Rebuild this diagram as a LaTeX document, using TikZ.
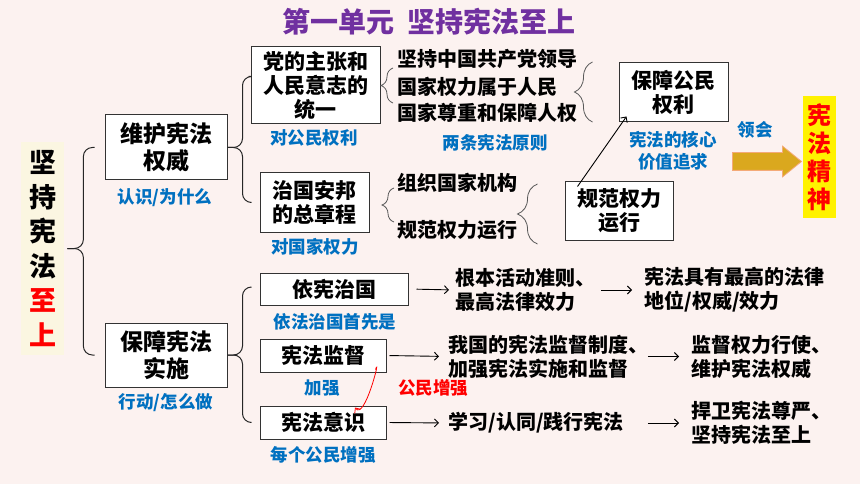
\documentclass[tikz,border=0pt]{standalone}
\usepackage{fontspec}
\setmainfont{Noto Sans CJK SC}
\usetikzlibrary{arrows.meta,shapes.arrows,decorations.pathreplacing}

\definecolor{bgpink}{RGB}{252,242,240}
\definecolor{titlepurple}{RGB}{112,48,160}
\definecolor{labelblue}{RGB}{0,112,192}
\definecolor{cream}{RGB}{251,246,225}
\definecolor{gold}{RGB}{218,168,30}
\definecolor{goldedge}{RGB}{244,170,120}

\tikzset{every picture/.style={line width=0.75pt}}
\tikzset{
  box/.style={draw=black!80, line width=1pt, fill=white, align=center, inner sep=0pt,
    font=\bfseries\fontsize{21}{24}\selectfont},
  note/.style={text=labelblue, align=center, inner sep=0pt,
    font=\bfseries\fontsize{17.5}{22}\selectfont},
  item/.style={anchor=west, align=left, inner sep=0pt,
    font=\bfseries\fontsize{20}{24}\selectfont},
  conn/.style={draw=black!85, line width=1pt, rounded corners=9pt},
  curly/.style={draw=black!65, line width=0.8pt, decorate, decoration={brace, amplitude=#1}},
  arr/.style={draw=black, line width=0.9pt, -{Straight Barb[length=4pt,width=8pt]}},
  fatarr/.style={single arrow, fill=gold, draw=goldedge, line width=0.8pt, inner sep=8.5pt,
    single arrow head extend=6.5pt, single arrow tip angle=78, minimum height=69pt}
}

\begin{document}
\begin{tikzpicture}[x=1pt,y=1pt,yscale=-1]
  %background and frame of the page
  \fill[bgpink] (0,0) rectangle (860,484);
  \useasboundingbox (0,0) rectangle (860,484);

  %Title
  \node[text=titlepurple, font=\bfseries\fontsize{28}{30}\selectfont] (title) at (429,22) {第一单元\hspace{0.45em}坚持宪法至上};

  %left column
  \node[fill=cream, minimum width=43pt, minimum height=213pt, inner sep=0pt, align=center,
    font=\bfseries\fontsize{27}{34.5}\selectfont] (jc) at (42.5,248.5)
    {坚\\持\\宪\\法\\\textcolor{red}{至}\\\textcolor{red}{上}};

  %second column
  \node[box, minimum width=122pt, minimum height=65pt, font=\bfseries\fontsize{23}{27}\selectfont] (wh) at (166,147.5) {维护宪法\\权威};
  \node[box, minimum width=122pt, minimum height=64pt, font=\bfseries\fontsize{23}{27}\selectfont] (bs) at (166,355) {保障宪法\\实施};
  \node[note] (whl) at (165,198) {认识/为什么};
  \node[note] (bsl) at (166,403) {行动/怎么做};

  %upper branch
  \node[box, minimum width=129pt, minimum height=77pt] (dz) at (315.5,85.5) {党的主张和\\人民意志的\\统一};
  \node[box, minimum width=109pt, minimum height=59pt] (zg) at (314.5,202.5) {治国安邦\\的总章程};
  \node[note] (dzl) at (314,138) {对公民权利};
  \node[note] (zgl) at (315,247) {对国家权力};

  \node[item] (p1) at (397,59) {坚持中国共产党领导};
  \node[item] (p2) at (397,87) {国家权力属于人民};
  \node[item] (p3) at (397,113) {国家尊重和保障人权};
  \node[note] (pl) at (495,143) {两条宪法原则};
  \node[item] (q1) at (397,183) {组织国家机构};
  \node[item] (q2) at (397,230) {规范权力运行};

  \node[box, minimum width=109pt, minimum height=59pt] (bz) at (673.5,92.5) {保障公民\\权利};
  \node[box, minimum width=108pt, minimum height=58pt] (gf) at (619,211) {规范权力\\运行};
  \node[note] (hx) at (673,151) {宪法的核心\\价值追求};
  \node[note] (lh) at (755,130) {领会};
  \node[fatarr] (ar) at (761.5,161.5) {};
  \node[fill=yellow, minimum width=33pt, minimum height=122pt, inner sep=0pt, align=center,
    text=red, font=\bfseries\fontsize{24}{28}\selectfont] (jsh) at (819.5,157) {宪\\法\\精\\神};

  %lower branch
  \node[box, minimum width=148pt, minimum height=32pt] (yx) at (334,289) {依宪治国};
  \node[box, minimum width=126pt, minimum height=33pt] (jd) at (323,355.5) {宪法监督};
  \node[box, minimum width=126pt, minimum height=33pt] (yy) at (323,422.5) {宪法意识};
  \node[note] (yxl) at (335,322) {依法治国首先是};
  \node[note] (jdl) at (322,388) {加强};
  \node[note] (yyl) at (323,455) {每个公民增强};
  \node[note, text=red] (gm) at (433,388) {公民增强};

  \node[item] (r1) at (455,290) {根本活动准则、\\最高法律效力};
  \node[item] (s1) at (644,290) {宪法具有最高的法律\\地位/权威/效力};
  \node[item] (r2) at (448,356.5) {我国的宪法监督制度、\\加强宪法实施和监督};
  \node[item] (s2) at (691,356.5) {监督权力行使、\\维护宪法权威};
  \node[item] (r3) at (448,423) {学习/认同/践行宪法};
  \node[item] (s3) at (691,423) {捍卫宪法尊严、\\坚持宪法至上};

  %Curly connectors
  \draw[conn] ([xshift=3pt]jc.east) -- ++(16,0) |- ([xshift=-10pt]wh.west);
  \draw[conn] ([xshift=3pt]jc.east) -- ++(16,0) |- ([xshift=-10pt]bs.west);
  \draw[conn] (wh.east) -- ++(15,0) |- ([xshift=-2pt,yshift=-9pt]dz.west);
  \draw[conn] (wh.east) -- ++(15,0) |- ([xshift=-8pt]zg.west);
  \draw[conn] (bs.east) -- ++(15,0) |- ([xshift=-8pt,yshift=-2pt]yx.west);
  \draw[conn] (bs.east) -- ++(15,0) |- ([xshift=-8pt]yy.west);

  %Braces
  \draw[curly=12pt] ([xshift=-4pt,yshift=-10pt]p3.west) -- ([xshift=-4pt,yshift=9pt]p1.west);
  \draw[curly=18pt] ([xshift=-26pt,yshift=29.5pt]bz.west) -- ([xshift=-26pt,yshift=-30.5pt]bz.west);
  \draw[curly=12pt] ([xshift=-3pt,yshift=-8pt]q2.west) -- ([xshift=-3pt,yshift=5pt]q1.west);
  \draw[curly=20pt] ([xshift=-27pt,yshift=33pt]gf.west) -- ([xshift=-27pt,yshift=-27pt]gf.west);

  %Arrows
  \draw[arr] ([xshift=13pt,yshift=5pt]gf.north west) -- ([xshift=8pt,yshift=-6pt]bz.south west);
  \draw[arr, shorten <=8pt, shorten >=6pt] (yx.east) -- (r1.west);
  \draw[arr, shorten <=5pt, shorten >=12pt] (r1.east) -- (s1.west);
  \draw[arr, shorten <=3pt, shorten >=9pt] (jd.east) -- (r2.west);
  \draw[arr, shorten <=-1pt, shorten >=12pt] (r2.east) -- (s2.west);
  \draw[arr, shorten <=3pt, shorten >=9pt] (yy.east) -- (r3.west);
  \draw[arr, shorten <=-1pt, shorten >=12pt] (r3.east -| r2.east) -- (r3.east -| s3.west);
  \draw[red, line width=0.8pt, -{Straight Barb[length=4pt,width=7pt]}]
    ([xshift=-11pt,yshift=-3pt]jd.south east) to[out=-70, in=55] ([xshift=32pt,yshift=2pt]yy.north);
\end{tikzpicture}
\end{document}
